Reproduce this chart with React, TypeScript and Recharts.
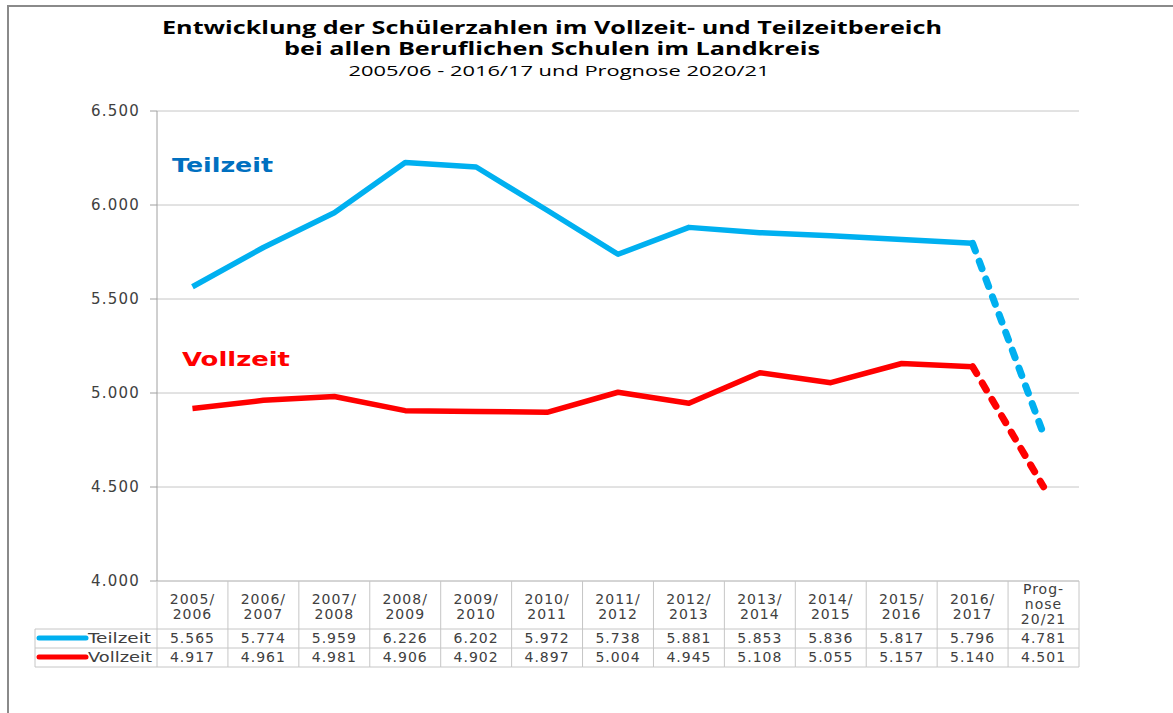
import React from "react";
import { LineChart, Line, XAxis, YAxis, CartesianGrid } from "recharts";

// values as printed in the data table under the chart
const headers: string[][] = [
  ["2005/", "2006"],
  ["2006/", "2007"],
  ["2007/", "2008"],
  ["2008/", "2009"],
  ["2009/", "2010"],
  ["2010/", "2011"],
  ["2011/", "2012"],
  ["2012/", "2013"],
  ["2013/", "2014"],
  ["2014/", "2015"],
  ["2015/", "2016"],
  ["2016/", "2017"],
  ["Prog-", "nose", "20/21"],
];
const teilzeit = [5565, 5774, 5959, 6226, 6202, 5972, 5738, 5881, 5853, 5836, 5817, 5796, 4781];
const vollzeit = [4917, 4961, 4981, 4906, 4902, 4897, 5004, 4945, 5108, 5055, 5157, 5140, 4501];
const yTicks = [4000, 4500, 5000, 5500, 6000, 6500];

const BLUE = "#00b0f0";
const RED = "#ff0000";
const GRID = "#c6c6c6";
const FONT = "'DejaVu Sans', Verdana, sans-serif";

const W = 1173;
const H = 713;
const PLOT_LEFT = 157;
const PLOT_RIGHT = 1079;
const PLOT_TOP = 111;
const PLOT_BOTTOM = 581;
const TABLE_LEFT = 35;
const ROW1 = 629;
const ROW2 = 648;
const ROW3 = 667;

if (typeof document !== "undefined") document.body.style.margin = "0";

const last = teilzeit.length - 1;
const data = headers.map((h, i) => ({
  cat: h.join(" "),
  teil: i < last ? teilzeit[i] : null,
  teilProg: i >= last - 1 ? teilzeit[i] : null,
  voll: i < last ? vollzeit[i] : null,
  vollProg: i >= last - 1 ? vollzeit[i] : null,
}));

const fmt = (v: number) => (v / 1000).toFixed(3);
const band = (PLOT_RIGHT - PLOT_LEFT) / headers.length;

function TableTick(props: any) {
  const { x, index } = props;
  const left = x - band / 2;
  const right = x + band / 2;
  const lines = headers[index];
  const firstBase = lines.length === 3 ? 594 : 604;
  const step = lines.length === 3 ? 15 : 14.5;
  const txt = { fontFamily: FONT, fontSize: 14, letterSpacing: 1, fill: "#404040", textAnchor: "middle" as const };
  return (
    <g>
      {index === 0 && (
        <g>
          <line x1={TABLE_LEFT} x2={PLOT_LEFT} y1={ROW1} y2={ROW1} stroke={GRID} />
          <line x1={TABLE_LEFT} x2={PLOT_LEFT} y1={ROW2} y2={ROW2} stroke={GRID} />
          <line x1={TABLE_LEFT} x2={PLOT_LEFT} y1={ROW3} y2={ROW3} stroke={GRID} />
          <line x1={TABLE_LEFT} x2={TABLE_LEFT} y1={ROW1} y2={ROW3} stroke={GRID} />
          <line x1={PLOT_LEFT} x2={PLOT_LEFT} y1={PLOT_BOTTOM} y2={ROW3} stroke={GRID} />
          <line x1={39} x2={86} y1={638} y2={638} stroke={BLUE} strokeWidth={5} strokeLinecap="round" />
          <line x1={39} x2={86} y1={657} y2={657} stroke={RED} strokeWidth={5} strokeLinecap="round" />
          <text x={88} y={643} fontFamily={FONT} fontSize={14} fill="#404040" textLength={63} lengthAdjust="spacingAndGlyphs">
            Teilzeit
          </text>
          <text x={88} y={662} fontFamily={FONT} fontSize={14} fill="#404040" textLength={64} lengthAdjust="spacingAndGlyphs">
            Vollzeit
          </text>
        </g>
      )}
      <line x1={right} x2={right} y1={PLOT_BOTTOM} y2={ROW3} stroke={GRID} />
      <line x1={left} x2={right} y1={ROW1} y2={ROW1} stroke={GRID} />
      <line x1={left} x2={right} y1={ROW2} y2={ROW2} stroke={GRID} />
      <line x1={left} x2={right} y1={ROW3} y2={ROW3} stroke={GRID} />
      {lines.map((l, k) => (
        <text key={k} x={x} y={firstBase + k * step} {...txt}>
          {l}
        </text>
      ))}
      <text x={x} y={643} {...txt}>
        {fmt(teilzeit[index])}
      </text>
      <text x={x} y={662} {...txt}>
        {fmt(vollzeit[index])}
      </text>
    </g>
  );
}

export default function App() {
  return (
    <div style={{ position: "relative", width: W, height: H, background: "#fff" }}>
      <div
        style={{
          position: "absolute",
          left: 7,
          top: 5,
          width: W - 7,
          height: H - 5,
          borderTop: "2px solid #8a8a8a",
          borderLeft: "2px solid #8a8a8a",
        }}
      />
      <LineChart
        width={W}
        height={H}
        data={data}
        margin={{ top: PLOT_TOP, right: W - PLOT_RIGHT, bottom: 0, left: 0 }}
        style={{ position: "absolute", left: 0, top: 0 }}
      >
        <CartesianGrid vertical={false} stroke={GRID} />
        <XAxis
          dataKey="cat"
          height={H - PLOT_BOTTOM}
          padding={{ left: band / 2, right: band / 2 }}
          axisLine={{ stroke: GRID }}
          tickLine={false}
          interval={0}
          tick={<TableTick />}
        />
        <YAxis
          width={PLOT_LEFT}
          domain={[4000, 6500]}
          ticks={yTicks}
          interval={0}
          tickSize={7}
          tickMargin={10}
          axisLine={{ stroke: "#a0a0a0" }}
          tickLine={{ stroke: "#a0a0a0" }}
          tickFormatter={fmt}
          tick={{ fontFamily: FONT, fontSize: 15, letterSpacing: 1.2, fill: "#404040" }}
        />
        <Line dataKey="teil" stroke={BLUE} strokeWidth={5.5} dot={false} activeDot={false} isAnimationActive={false} strokeLinejoin="round" />
        <Line dataKey="teilProg" stroke={BLUE} strokeWidth={7} strokeDasharray="8 11" strokeLinecap="round" dot={false} activeDot={false} isAnimationActive={false} />
        <Line dataKey="voll" stroke={RED} strokeWidth={5.5} dot={false} activeDot={false} isAnimationActive={false} strokeLinejoin="round" />
        <Line dataKey="vollProg" stroke={RED} strokeWidth={7} strokeDasharray="8 11" strokeLinecap="round" dot={false} activeDot={false} isAnimationActive={false} />
      </LineChart>
      <svg width={W} height={120} style={{ position: "absolute", left: 0, top: 0, pointerEvents: "none" }}>
        <text x={552} y={34} textAnchor="middle" fontFamily="'Open Sans', sans-serif" fontWeight={700} fontSize={17} fill="#000" textLength={780} lengthAdjust="spacingAndGlyphs">
          Entwicklung der Schülerzahlen im Vollzeit- und Teilzeitbereich
        </text>
        <text x={552} y={55} textAnchor="middle" fontFamily="'Open Sans', sans-serif" fontWeight={700} fontSize={17} fill="#000" textLength={536} lengthAdjust="spacingAndGlyphs">
          bei allen Beruflichen Schulen im Landkreis
        </text>
        <text x={559} y={76} textAnchor="middle" fontFamily="'Open Sans', sans-serif" fontSize={14} fill="#000" textLength={421} lengthAdjust="spacingAndGlyphs">
          2005/06 - 2016/17 und Prognose 2020/21
        </text>
      </svg>
      <svg width={W} height={H} style={{ position: "absolute", left: 0, top: 0, pointerEvents: "none" }}>
        <text x={172} y={172} fontFamily={FONT} fontWeight={700} fontSize={19} fill="#0070c0" textLength={101} lengthAdjust="spacingAndGlyphs">
          Teilzeit
        </text>
        <text x={182} y={366} fontFamily={FONT} fontWeight={700} fontSize={19} fill={RED} textLength={108} lengthAdjust="spacingAndGlyphs">
          Vollzeit
        </text>
      </svg>
    </div>
  );
}
